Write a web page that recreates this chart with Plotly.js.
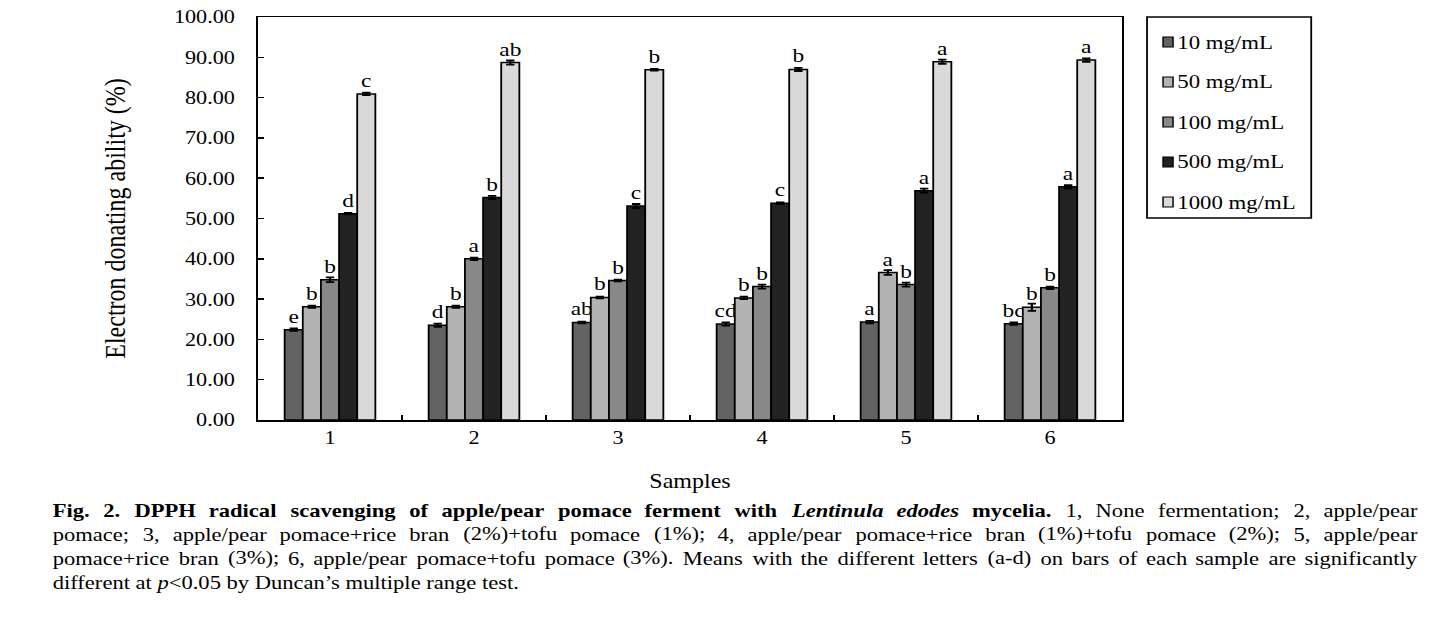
<!DOCTYPE html>
<html>
<head>
<meta charset="utf-8">
<script src="https://cdn.plot.ly/plotly-3.0.1.min.js"></script>
<style>
html,body{margin:0;padding:0;background:#fff;overflow:hidden;}
#wrap{width:1431px;height:627px;overflow:hidden;}
#chart{height:627px;transform-origin:0 0;}
</style>
</head>
<body>
<div id="wrap"><div id="chart"></div></div>
<script>
// ---- data ----
const samples = ["1", "2", "3", "4", "5", "6"];
const seriesNames = ["10 mg/mL", "50 mg/mL", "100 mg/mL", "500 mg/mL", "1000 mg/mL"];
const v10   = [22.4, 23.5, 24.2, 23.8, 24.3, 23.9];
const v50   = [28.1, 28.1, 30.4, 30.3, 36.6, 28.0];
const v100  = [34.8, 40.0, 34.6, 33.1, 33.6, 32.8];
const v500  = [51.2, 55.2, 53.1, 53.8, 56.9, 57.9];
const v1000 = [80.9, 88.7, 86.9, 87.0, 88.9, 89.3];
const e10   = [0.3, 0.4, 0.2, 0.4, 0.3, 0.3];
const e50   = [0.3, 0.3, 0.2, 0.3, 0.6, 0.9];
const e100  = [0.6, 0.3, 0.2, 0.5, 0.5, 0.3];
const e500  = [0.2, 0.4, 0.5, 0.2, 0.5, 0.4];
const e1000 = [0.3, 0.5, 0.2, 0.4, 0.5, 0.4];
const lab10   = ["e", "d", "ab", "cd", "a", "bc"];
const lab50   = ["b", "b", "b", "b", "a", "b"];
const lab100  = ["b", "a", "b", "b", "b", "b"];
const lab500  = ["d", "b", "c", "c", "a", "a"];
const lab1000 = ["c", "ab", "b", "b", "a", "a"];

const values = [v10, v50, v100, v500, v1000];
const errors = [e10, e50, e100, e500, e1000];
const letters = [lab10, lab50, lab100, lab500, lab1000];
const colors = ["#636363", "#b3b3b3", "#888888", "#222222", "#dadada"];

const FONT = '"Liberation Serif", "Times New Roman", serif';

// the reference is slightly stretched horizontally; reproduce with a horizontal scale
const S = 1.2;
const W = 1431 / S, H = 627;
document.getElementById("chart").style.width = W + "px";
document.getElementById("chart").style.transform = "scaleX(" + S + ")";

const traces = seriesNames.map((name, i) => ({
  type: "bar",
  name: name,
  x: samples,
  y: values[i],
  marker: {color: colors[i], line: {color: "#000", width: 1.5}},
  error_y: {type: "data", array: errors[i], visible: true, color: "#000", thickness: 1.8, width: 3.5},
  text: letters[i],
  textposition: "outside",
  constraintext: "none",
  cliponaxis: false,
  textfont: {family: FONT, size: 19.5, color: "#000"},
  showlegend: false,
  hoverinfo: "skip"
}));

// ---- caption (justified by measuring words) ----
const captionLines = [
  [["Fig.", "b"], ["2.", "b"], ["DPPH", "b"], ["radical", "b"], ["scavenging", "b"], ["of", "b"], ["apple/pear", "b"], ["pomace", "b"], ["ferment", "b"], ["with", "b"], ["Lentinula", "bi"], ["edodes", "bi"], ["mycelia.", "b"], ["1,", ""], ["None", ""], ["fermentation;", ""], ["2,", ""], ["apple/pear", ""]],
  [["pomace;", ""], ["3,", ""], ["apple/pear", ""], ["pomace+rice", ""], ["bran", ""], ["(2%)+tofu", ""], ["pomace", ""], ["(1%);", ""], ["4,", ""], ["apple/pear", ""], ["pomace+rice", ""], ["bran", ""], ["(1%)+tofu", ""], ["pomace", ""], ["(2%);", ""], ["5,", ""], ["apple/pear", ""]],
  [["pomace+rice", ""], ["bran", ""], ["(3%);", ""], ["6,", ""], ["apple/pear", ""], ["pomace+tofu", ""], ["pomace", ""], ["(3%).", ""], ["Means", ""], ["with", ""], ["the", ""], ["different", ""], ["letters", ""], ["(a-d)", ""], ["on", ""], ["bars", ""], ["of", ""], ["each", ""], ["sample", ""], ["are", ""], ["significantly", ""]]
];
const lastLine = "different at <i>p</i>&lt;0.05 by Duncan\u2019s multiple range test.";

// reference-pixel geometry (converted to unscaled units)
const plotL = 258 / S, plotR = 1121 / S, plotT = 17, plotB = 420;
const pw = plotR - plotL, ph = plotB - plotT;
const capLeft = 52 / S, capRight = 1415 / S, capSize = 18.8;
const lineY = [510, 534, 558, 582];
const px2x = p => (p - plotL) / pw;      // unscaled px -> paper x
const rx = p => px2x(p / S);             // reference px -> paper x
const px2y = p => (plotB - p) / ph;

const cv = document.createElement("canvas").getContext("2d");
function measure(t, st) {
  cv.font = (st.includes("i") ? "italic " : "") + (st.includes("b") ? "bold " : "") + capSize + 'px "Liberation Serif"';
  return cv.measureText(t).width;
}
const annotations = [];
captionLines.forEach((words, li) => {
  const widths = words.map(w => measure(w[0], w[1]));
  const total = widths.reduce((a, b) => a + b, 0);
  const gap = (capRight - capLeft - total) / (words.length - 1);
  let x = capLeft;
  words.forEach((w, wi) => {
    let t = w[0];
    if (w[1].includes("i")) t = "<i>" + t + "</i>";
    if (w[1].includes("b")) t = "<b>" + t + "</b>";
    annotations.push({
      text: t, xref: "paper", yref: "paper", x: px2x(x - 1), y: px2y(lineY[li]),
      xanchor: "left", yanchor: "middle", showarrow: false,
      font: {family: FONT, size: capSize, color: "#000"}
    });
    x += widths[wi] + gap;
  });
});
annotations.push({
  text: lastLine, xref: "paper", yref: "paper", x: px2x(capLeft - 1), y: px2y(lineY[3]),
  xanchor: "left", yanchor: "middle", showarrow: false,
  font: {family: FONT, size: capSize, color: "#000"}
});

// ---- legend box drawn as shapes + text ----
const shapes = [{
  type: "rect", xref: "paper", yref: "paper",
  x0: rx(1146), x1: rx(1310), y0: px2y(17), y1: px2y(218),
  line: {color: "#000", width: 1.5}, fillcolor: "rgba(0,0,0,0)"
}];
seriesNames.forEach((name, i) => {
  const cy = 42 + 40 * i;
  shapes.push({
    type: "rect", xref: "paper", yref: "paper",
    x0: rx(1162), x1: rx(1172), y0: px2y(cy - 5), y1: px2y(cy + 5),
    line: {color: "#000", width: 1.2}, fillcolor: colors[i]
  });
  annotations.push({
    text: name, xref: "paper", yref: "paper", x: rx(1174), y: px2y(cy),
    xanchor: "left", yanchor: "middle", showarrow: false,
    font: {family: FONT, size: 19, color: "#000"}
  });
});

const layout = {
  width: W, height: H,
  margin: {l: plotL, r: W - plotR, t: plotT, b: H - plotB, pad: 0},
  paper_bgcolor: "#fff", plot_bgcolor: "#fff",
  font: {family: FONT, size: 18, color: "#000"},
  barmode: "group", bargap: 0.37, bargroupgap: 0,
  showlegend: false,
  xaxis: {
    type: "category", showline: true, linecolor: "#000", linewidth: 1.5, mirror: true,
    ticks: "inside", ticklen: 5, tickcolor: "#000", tickwidth: 1.3, tickson: "boundaries",
    tickfont: {family: FONT, size: 18.5}, showgrid: false, zeroline: false,
    title: {text: "Samples", font: {family: FONT, size: 20}, standoff: 27}
  },
  yaxis: {
    range: [0, 100], dtick: 10, tickformat: ".2f", showline: true, linecolor: "#000", linewidth: 1.5, mirror: true,
    ticks: "inside", ticklen: 5, tickcolor: "#000", tickwidth: 1.5, ticklabelstandoff: 14,
    tickfont: {family: FONT, size: 18.5}, showgrid: false, zeroline: false,
    title: {text: "Electron donating ability (%)", font: {family: FONT, size: 24}, standoff: 33}
  },
  shapes: shapes,
  annotations: annotations
};

Plotly.newPlot("chart", traces, layout, {staticPlot: true, displayModeBar: false});
</script>
</body>
</html>
